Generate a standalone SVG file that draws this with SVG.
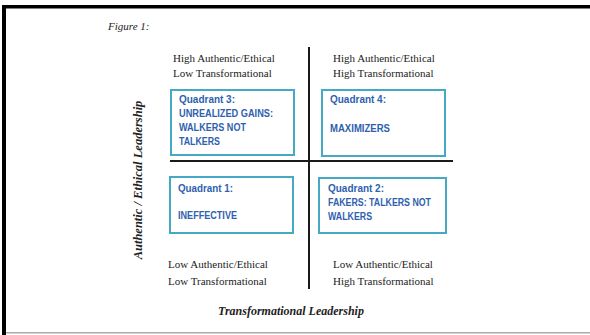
<svg xmlns="http://www.w3.org/2000/svg" width="590" height="335" viewBox="0 0 590 335">
<style>
.serif{font-family:"Liberation Serif","Times New Roman",serif;font-size:11px;fill:#222}
.axis{font-family:"Liberation Serif","Times New Roman",serif;font-style:italic;font-weight:bold;fill:#222}
.box{fill:#fff;stroke:#45a9c3;stroke-width:2}
.q{font-family:"Liberation Sans",Arial,sans-serif;font-size:10.5px;font-weight:bold;fill:#2f5fae}
.line{stroke:#1a1a1a;stroke-width:2}
</style>
<rect x="0" y="0" width="590" height="335" fill="#fff"/>
<rect x="2" y="5" width="588" height="3.5" fill="#000"/>
<rect x="2" y="5" width="4" height="330" fill="#000"/>
<rect x="6" y="332" width="584" height="1.5" fill="#aaa"/>
<text x="108" y="30" class="serif" font-style="italic">Figure 1:</text>
<g id="connectors">
<line class="line" x1="309" y1="47" x2="309" y2="289"/>
<line class="line" x1="170" y1="161" x2="453" y2="161"/>
</g>
<g id="labels-top">
<text x="173" y="62" class="serif">High Authentic/Ethical</text>
<text x="173" y="77" class="serif">Low Transformational</text>
<text x="333" y="62" class="serif">High Authentic/Ethical</text>
<text x="333" y="77" class="serif">High Transformational</text>
</g>
<g id="labels-bottom">
<text x="168" y="268" class="serif">Low Authentic/Ethical</text>
<text x="168" y="285" class="serif">Low Transformational</text>
<text x="333" y="268" class="serif">Low Authentic/Ethical</text>
<text x="333" y="285" class="serif">High Transformational</text>
</g>
<g id="q3">
<rect class="box" x="171" y="90" width="123" height="65"/>
<text class="q" x="179" y="103" textLength="56" lengthAdjust="spacingAndGlyphs">Quadrant 3:</text>
<text class="q" x="179" y="117" textLength="94" lengthAdjust="spacingAndGlyphs">UNREALIZED GAINS:</text>
<text class="q" x="179" y="131" textLength="67" lengthAdjust="spacingAndGlyphs">WALKERS NOT</text>
<text class="q" x="179" y="145" textLength="41" lengthAdjust="spacingAndGlyphs">TALKERS</text>
</g>
<g id="q4">
<rect class="box" x="322" y="90" width="123" height="66"/>
<text class="q" x="330" y="103" textLength="56" lengthAdjust="spacingAndGlyphs">Quadrant 4:</text>
<text class="q" x="330" y="132" textLength="60" lengthAdjust="spacingAndGlyphs">MAXIMIZERS</text>
</g>
<g id="q1">
<rect class="box" x="170" y="177" width="123" height="56"/>
<text class="q" x="178" y="192" textLength="55" lengthAdjust="spacingAndGlyphs">Quadrant 1:</text>
<text class="q" x="178" y="219" textLength="59" lengthAdjust="spacingAndGlyphs">INEFFECTIVE</text>
</g>
<g id="q2">
<rect class="box" x="319" y="178" width="127" height="55"/>
<text class="q" x="328" y="192" textLength="56" lengthAdjust="spacingAndGlyphs">Quadrant 2:</text>
<text class="q" x="328" y="206" textLength="103" lengthAdjust="spacingAndGlyphs">FAKERS: TALKERS NOT</text>
<text class="q" x="328" y="220" textLength="44" lengthAdjust="spacingAndGlyphs">WALKERS</text>
</g>
<text class="axis" x="291" y="315" font-size="12" text-anchor="middle">Transformational Leadership</text>
<text class="axis" transform="translate(142,180) rotate(-90)" font-size="12.5" text-anchor="middle">Authentic / Ethical Leadership</text>
</svg>
